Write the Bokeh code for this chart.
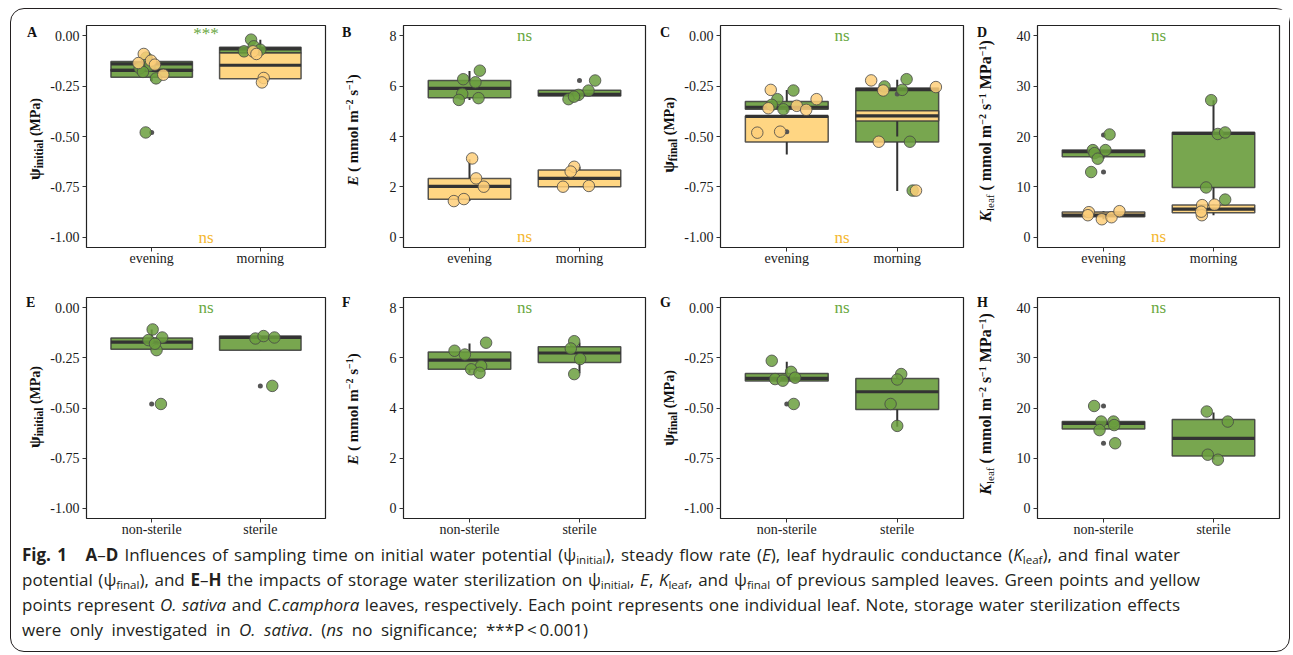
from bokeh.plotting import figure
from bokeh.models import FixedTicker, Label, Range1d, Div, NumeralTickFormatter
from bokeh.layouts import row, column
from bokeh.embed import file_html
from bokeh.resources import INLINE

# ---------------- data ----------------
time_labels = ["evening", "morning"]
steril_labels = ["non-sterile", "sterile"]

psi_ticks = [-1.0, -0.75, -0.5, -0.25, 0.0]
e_ticks = [0, 2, 4, 6, 8]
k_ticks = [0, 10, 20, 30, 40]

# box stats per category: [lower whisker, Q1, median, Q3, upper whisker]
A_green_box = [[-0.225, -0.206, -0.140, -0.128, -0.105], [-0.090, -0.086, -0.066, -0.058, -0.020]]
A_green_out = [[-0.48], []]
A_green_val = [[-0.109, -0.149, -0.162, -0.180, -0.212, -0.480], [-0.020, -0.053, -0.078, -0.070]]
A_green_jit = [[-0.05, -0.02, -0.11, -0.08, 0.04, -0.055], [-0.085, -0.06, -0.15, 0.0]]
A_yellow_box = [[-0.176, -0.176, -0.172, -0.168, -0.168], [-0.232, -0.214, -0.147, -0.086, -0.075]]
A_yellow_out = [[], []]
A_yellow_val = [[-0.091, -0.124, -0.136, -0.144, -0.194], [-0.078, -0.091, -0.210, -0.232]]
A_yellow_jit = [[-0.073, -0.006, -0.122, 0.03, 0.107], [-0.067, -0.036, 0.031, 0.015]]

B_green_box = [[5.45, 5.54, 5.91, 6.22, 6.60], [5.48, 5.61, 5.67, 5.83, 5.83]]
B_green_out = [[], [6.22]]
B_green_val = [[6.61, 6.27, 6.15, 5.69, 5.45, 5.52], [6.22, 5.82, 5.65, 5.48, 5.58]]
B_green_jit = [[0.094, -0.057, 0.054, -0.066, -0.097, 0.082], [0.142, 0.082, -0.009, -0.10, -0.05]]
B_yellow_box = [[1.44, 1.51, 2.02, 2.34, 3.10], [2.01, 2.01, 2.34, 2.67, 2.80]]
B_yellow_out = [[], []]
B_yellow_val = [[3.13, 2.34, 2.01, 1.44, 1.52], [2.80, 2.61, 2.01, 2.04]]
B_yellow_jit = [[0.024, 0.06, 0.13, -0.142, -0.051], [-0.048, -0.08, -0.15, 0.085]]

C_green_box = [[-0.380, -0.365, -0.355, -0.327, -0.269], [-0.770, -0.527, -0.268, -0.260, -0.219]]
C_green_out = [[], []]
C_green_val = [[-0.272, -0.315, -0.343, -0.365], [-0.252, -0.216, -0.269, -0.526, -0.768]]
C_green_jit = [[0.06, -0.085, -0.136, -0.03], [-0.115, 0.085, 0.045, 0.115, 0.14]]
C_yellow_box = [[-0.589, -0.527, -0.400, -0.398, -0.398], [-0.500, -0.423, -0.398, -0.372, -0.372]]
C_yellow_out = [[-0.476], [-0.289]]
C_yellow_val = [[-0.269, -0.315, -0.360, -0.348, -0.368, -0.481, -0.476], [-0.222, -0.272, -0.255, -0.526, -0.768]]
C_yellow_jit = [[-0.145, 0.27, -0.167, 0.09, 0.176, -0.267, -0.06], [-0.236, -0.127, 0.35, -0.167, 0.17]]

D_green_box = [[15.6, 16.0, 17.0, 17.3, 17.3], [7.5, 9.9, 20.6, 20.8, 27.2]]
D_green_out = [[20.3, 12.96], []]
D_green_val = [[20.4, 17.3, 17.3, 16.7, 15.6, 12.96], [27.2, 20.5, 20.8, 9.9, 7.5]]
D_green_jit = [[0.055, -0.097, 0.018, -0.082, -0.052, -0.112], [-0.021, 0.039, 0.106, -0.067, 0.106]]
D_yellow_box = [[3.6, 4.1, 4.4, 5.02, 5.2], [4.4, 4.9, 5.6, 6.4, 6.5]]
D_yellow_out = [[], []]
D_yellow_val = [[5.0, 4.4, 3.6, 4.0, 5.2], [6.4, 6.5, 4.4, 5.1]]
D_yellow_jit = [[-0.133, -0.142, -0.015, 0.073, 0.145], [-0.103, 0.009, -0.106, -0.112]]

E_green_box = [[-0.212, -0.207, -0.172, -0.151, -0.109], [-0.212, -0.212, -0.149, -0.142, -0.142]]
E_green_out = [[-0.48], [-0.39]]
E_green_val = [[-0.109, -0.162, -0.149, -0.212, -0.180, -0.480], [-0.154, -0.142, -0.149, -0.390]]
E_green_jit = [[0.009, -0.03, 0.097, 0.045, 0.03, 0.085], [-0.045, 0.03, 0.13, 0.11]]

F_green_box = [[5.40, 5.54, 5.91, 6.23, 6.57], [5.38, 5.81, 6.19, 6.44, 6.61]]
F_green_out = [[], []]
F_green_val = [[6.60, 6.28, 6.13, 5.67, 5.54, 5.40], [6.66, 6.37, 5.95, 5.35]]
F_green_jit = [[0.151, -0.136, -0.042, 0.106, 0.015, 0.091], [-0.048, -0.079, 0.006, -0.048]]

G_green_box = [[-0.366, -0.366, -0.353, -0.328, -0.270], [-0.593, -0.507, -0.419, -0.353, -0.331]]
G_green_out = [[-0.48], []]
G_green_val = [[-0.265, -0.320, -0.356, -0.364, -0.349, -0.480], [-0.331, -0.358, -0.480, -0.589]]
G_green_jit = [[-0.136, 0.039, -0.106, -0.036, 0.076, 0.063], [0.036, 0.0, -0.06, 0.0]]

H_green_box = [[15.6, 15.8, 16.95, 17.3, 17.3], [9.7, 10.46, 13.97, 17.7, 19.1]]
H_green_out = [[20.4, 12.98], []]
H_green_val = [[20.4, 17.3, 17.3, 16.6, 15.6, 12.98], [19.3, 17.3, 10.7, 9.7]]
H_green_jit = [[-0.085, -0.021, 0.091, 0.097, -0.036, 0.106], [-0.061, 0.13, -0.052, 0.04]]

# ---------------- style ----------------
GREEN_BOX = "#78a64f"
GREEN_PT = "#6b9f3e"
YEL_BOX = "#ffd683"
YEL_PT = "#fecf7a"
NS_GREEN = "#6aa83f"
NS_YEL = "#f4b731"
DARK = "#333333"
SERIF = "Liberation Serif"
BOXW = 0.75


def draw_boxes(p, box, outs, fill):
    for i, st in enumerate(box):
        x = i + 1
        lw, q1, med, q3, uw = st
        p.segment(x0=[x], y0=[lw], x1=[x], y1=[uw], line_color=DARK, line_width=2)
        p.quad(left=[x - BOXW / 2], right=[x + BOXW / 2], bottom=[q1], top=[q3],
               fill_color=fill, line_color="#3a3a3a", line_alpha=0.85, line_width=1.5)
        p.segment(x0=[x - BOXW / 2], y0=[med], x1=[x + BOXW / 2], y1=[med],
                  line_color=DARK, line_width=3.2)
        if outs[i]:
            p.scatter(x=[x] * len(outs[i]), y=outs[i], size=5, fill_color="#555555",
                      line_color=None)


def draw_points(p, vals, jits, fill):
    xs, ys = [], []
    for i, (v, j) in enumerate(zip(vals, jits)):
        xs += [i + 1 + d for d in j]
        ys += v
    p.scatter(x=xs, y=ys, size=11.5, fill_color=fill, fill_alpha=0.85,
              line_color="#474747", line_alpha=0.8, line_width=1)


def make_panel(cats, yr, yticks, yfmt, fw, fh, bl, br, bt, bb, groups, ns):
    p = figure(frame_width=fw, frame_height=fh, min_border_left=bl, min_border_right=br,
               min_border_top=bt, min_border_bottom=bb,
               x_range=Range1d(0.4, 2.6), y_range=Range1d(*yr),
               output_backend="svg", toolbar_location=None)
    p.background_fill_color = "white"
    p.border_fill_color = "white"
    p.outline_line_color = "#222222"
    p.outline_line_width = 1.2
    p.outline_line_alpha = 1
    p.xgrid.visible = False
    p.ygrid.visible = False
    for ax in (p.xaxis[0], p.yaxis[0]):
        ax.axis_line_color = None
        ax.major_tick_line_color = DARK
        ax.major_tick_out = 4
        ax.major_tick_in = 0
        ax.minor_tick_line_color = None
        ax.major_label_text_font = SERIF
        ax.major_label_text_font_size = "14px"
        ax.major_label_text_color = "#1a1a1a"
    p.xaxis.major_label_standoff = -1
    p.yaxis.major_label_standoff = 3
    p.xaxis.ticker = FixedTicker(ticks=[1, 2])
    p.xaxis.major_label_overrides = {1: cats[0], 2: cats[1]}
    p.yaxis.ticker = FixedTicker(ticks=yticks)
    if yfmt:
        p.yaxis.formatter = NumeralTickFormatter(format=yfmt)
    for box, outs, vals, jits, bfill, pfill in groups:
        draw_boxes(p, box, outs, bfill)
    for box, outs, vals, jits, bfill, pfill in groups:
        draw_points(p, vals, jits, pfill)
    for txt, yv, col in ns:
        p.add_layout(Label(x=1.5, y=yv, text=txt, text_align="center",
                           text_baseline="middle", text_font=SERIF,
                           text_font_size="17px", text_color=col))
    return p


def label_div(w, h, letter, lx, ly, cx, cy, inner):
    font = "font-family:'Liberation Serif',serif;font-weight:bold;line-height:1;color:#111;"
    html = (f'<div style="position:relative;width:{w}px;height:{h}px;">'
            f'<div style="position:absolute;left:{lx}px;top:{ly}px;font-size:14px;{font}">{letter}</div>'
            f'<div style="position:absolute;left:{cx}px;top:{cy}px;transform:translate(-50%,-50%) rotate(-90deg);'
            f'white-space:nowrap;font-size:14px;{font}">{inner}</div></div>')
    return Div(text=html, width=w, height=h, margin=0)


SUP = '<sup style="font-size:10px;vertical-align:0.5em;line-height:0">'
psi_init = ('<span style="font-size:17px">ψ</span><sub style="font-size:11.5px;vertical-align:-0.3em;line-height:0">'
            'initial</sub> (MPa)')
psi_final = ('<span style="font-size:17px">ψ</span><sub style="font-size:11.5px;vertical-align:-0.3em;line-height:0">'
             'final</sub> (MPa)')
e_lab = ('<i style="font-size:15px">E</i><span style="font-size:15px"> ( mmol m' + SUP + '−2</sup> s'
         + SUP + '−1</sup>)</span>')
k_lab = ('<i style="font-size:16px">K</i><sub style="font-size:11px;font-weight:normal;vertical-align:-0.3em;line-height:0">'
         'leaf</sub><span style="font-size:16px"> ( mmol m' + SUP + '−2</sup> s' + SUP + '−1</sup> MPa'
         + SUP + '−1</sup>)</span>')

PSI = (-1.05, 0.05)
ER = (-0.4, 8.4)
KR = (-2, 42)
G = (GREEN_BOX, GREEN_PT)
Y = (YEL_BOX, YEL_PT)

TH, BH = 269, 266   # row heights

pA = make_panel(time_labels, PSI, psi_ticks, "0.00", 239, 222, 41, 15, 16, 31,
                [(A_green_box, A_green_out, A_green_val, A_green_jit) + G,
                 (A_yellow_box, A_yellow_out, A_yellow_val, A_yellow_jit) + Y],
                [("***", 0.008, NS_GREEN), ("ns", -0.998, NS_YEL)])
pB = make_panel(time_labels, ER, e_ticks, None, 242, 222, 29, 12, 16, 31,
                [(B_green_box, B_green_out, B_green_val, B_green_jit) + G,
                 (B_yellow_box, B_yellow_out, B_yellow_val, B_yellow_jit) + Y],
                [("ns", 8.0, NS_GREEN), ("ns", 0.02, NS_YEL)])
pC = make_panel(time_labels, PSI, psi_ticks, "0.00", 243, 222, 42, 12, 16, 31,
                [(C_green_box, C_green_out, C_green_val, C_green_jit) + G,
                 (C_yellow_box, C_yellow_out, C_yellow_val, C_yellow_jit) + Y],
                [("ns", 0.002, NS_GREEN), ("ns", -0.998, NS_YEL)])
pD = make_panel(time_labels, KR, k_ticks, None, 242, 222, 37, 10, 16, 31,
                [(D_green_box, D_green_out, D_green_val, D_green_jit) + G,
                 (D_yellow_box, D_yellow_out, D_yellow_val, D_yellow_jit) + Y],
                [("ns", 40.0, NS_GREEN), ("ns", 0.1, NS_YEL)])

pE = make_panel(steril_labels, PSI, psi_ticks, "0.00", 239, 221, 41, 15, 19, 26,
                [(E_green_box, E_green_out, E_green_val, E_green_jit) + G],
                [("ns", 0.002, NS_GREEN)])
pF = make_panel(steril_labels, ER, e_ticks, None, 242, 221, 29, 12, 19, 26,
                [(F_green_box, F_green_out, F_green_val, F_green_jit) + G],
                [("ns", 8.0, NS_GREEN)])
pG = make_panel(steril_labels, PSI, psi_ticks, "0.00", 243, 221, 42, 12, 19, 26,
                [(G_green_box, G_green_out, G_green_val, G_green_jit) + G],
                [("ns", 0.002, NS_GREEN)])
pH = make_panel(steril_labels, KR, k_ticks, None, 242, 221, 37, 10, 19, 26,
                [(H_green_box, H_green_out, H_green_val, H_green_jit) + G],
                [("ns", 40.0, NS_GREEN)])

dA = label_div(34, TH, "A", 16, 16.5, 23, 129.5, psi_init)
dB = label_div(34, TH, "B", 2, 16.5, 13, 121, e_lab)
dC = label_div(21, TH, "C", 3, 16.5, 10.5, 126, psi_final)
dD = label_div(25, TH, "D", 2, 16.5, 11, 122, k_lab)
dE = label_div(34, BH, "E", 15, 17.5, 23, 129, psi_init)
dF = label_div(34, BH, "F", 2, 17.5, 13, 130.5, e_lab)
dG = label_div(21, BH, "G", 3, 17.5, 10.5, 129.5, psi_final)
dH = label_div(25, BH, "H", 2, 17.5, 11, 126, k_lab)

SUB = '<sub style="font-size:0.68em;line-height:0;vertical-align:-0.3em">'
cap_lines = [
    '<b>Fig. 1</b>&nbsp;&nbsp;&nbsp;<b>A</b>–<b>D</b> Influences of sampling time on initial water potential (ψ' + SUB + 'initial</sub>), steady flow rate (<i>E</i>), leaf hydraulic conductance (<i>K</i>' + SUB + 'leaf</sub>), and final water',
    'potential (ψ' + SUB + 'final</sub>), and <b>E</b>–<b>H</b> the impacts of storage water sterilization on ψ' + SUB + 'initial</sub>, <i>E</i>, <i>K</i>' + SUB + 'leaf</sub>, and ψ' + SUB + 'final</sub> of previous sampled leaves. Green points and yellow',
    'points represent <i>O. sativa</i> and <i>C.camphora</i> leaves, respectively. Each point represents one individual leaf. Note, storage water sterilization effects',
    'were only investigated in <i>O. sativa</i>. (<i>ns</i> no significance; ***P&thinsp;&lt;&thinsp;0.001)',
]
cap_widths = [1158, 1178, 1158, 566]
cap_html = ''
for txt, w in zip(cap_lines, cap_widths):
    cap_html += (f'<div style="width:{w}px;height:25px;text-align:justify;text-align-last:justify;">'
                 f'{txt}</div>')
caption = Div(text='<div style="position:relative;top:-2px;font-family:\'Open Sans\',sans-serif;font-size:17px;'
                   'line-height:25px;color:#231f20;padding-left:11px;">' + cap_html + '</div>',
              width=1278, height=107, margin=0)

layout = column(row(dA, pA, dB, pB, dC, pC, dD, pD),
                row(dE, pE, dF, pF, dG, pG, dH, pH),
                caption, margin=(8, 0, 0, 10),
                styles={"border": "1.3px solid #231f20", "border-radius": "14px",
                        "background-color": "white"})

open("out.html", "w").write(file_html(layout, INLINE))
